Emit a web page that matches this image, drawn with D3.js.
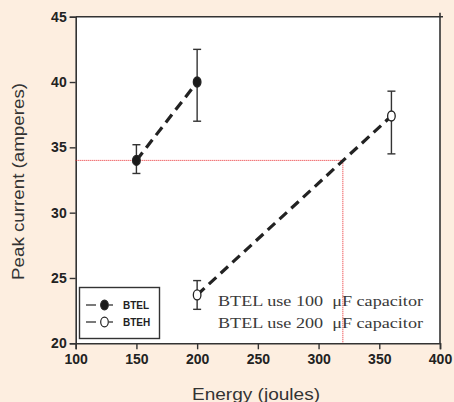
<!DOCTYPE html>
<html>
<head>
<meta charset="utf-8">
<script src="https://cdn.jsdelivr.net/npm/d3@7"></script>
<style>
  body { margin: 0; background: #fdeee0; }
  svg { display: block; }
</style>
</head>
<body>
<svg width="454" height="402"></svg>
<script>
// series data
var btelEnergy = [150, 200];
var btelCurrent = [34, 40];
var btelLow = [33, 37];
var btelHigh = [35.2, 42.5];

var btehEnergy = [200, 360];
var btehCurrent = [23.7, 37.4];
var btehLow = [22.6, 34.5];
var btehHigh = [24.8, 39.3];

var xTicks = [100, 150, 200, 250, 300, 350, 400];
var yTicks = [20, 25, 30, 35, 40, 45];
var refPoint = [320, 34]; // red dotted guide
var notes = ["BTEL use 100  \u03bcF capacitor", "BTEL use 200  \u03bcF capacitor"];

var svg = d3.select("svg");
// note: "top" is reserved on window, so plot edges get a prefix
var pLeft = 75.7, pRight = 440, pTop = 16.7, pBottom = 343.3;

var x = d3.scaleLinear().domain([100, 400]).range([pLeft, pRight]);
var y = d3.scaleLinear().domain([20, 45]).range([pBottom, pTop]);

// plot background
svg.append("rect")
  .attr("x", pLeft).attr("y", pTop)
  .attr("width", pRight - pLeft).attr("height", pBottom - pTop)
  .attr("fill", "#fff");

var axisColor = "#333";
var tickFont = "bold 14px 'Liberation Sans', Arial, sans-serif";

var xAxis = svg.append("g")
  .attr("transform", "translate(0," + pBottom + ")")
  .call(d3.axisBottom(x).tickValues(xTicks).tickSize(6).tickPadding(5));
var yAxis = svg.append("g")
  .attr("transform", "translate(" + pLeft + ",0)")
  .call(d3.axisLeft(y).tickValues(yTicks).tickSize(6).tickPadding(3));

[xAxis, yAxis].forEach(function(g) {
  g.select(".domain").attr("stroke", axisColor).attr("stroke-width", 1.6);
  g.selectAll(".tick line").attr("stroke", axisColor).attr("stroke-width", 1.4);
  g.selectAll(".tick text").attr("fill", "#222").style("font", tickFont);
});

// top and right frame
svg.append("line").attr("x1", pLeft).attr("x2", pRight + 3)
  .attr("y1", pTop).attr("y2", pTop)
  .attr("stroke", axisColor).attr("stroke-width", 1.6);
svg.append("line").attr("x1", pRight).attr("x2", pRight)
  .attr("y1", pTop - 4).attr("y2", pBottom)
  .attr("stroke", axisColor).attr("stroke-width", 1.6);

// red dotted guide lines
svg.append("path")
  .attr("d", "M" + x(100) + "," + y(refPoint[1]) + "H" + x(refPoint[0]) + "V" + y(20))
  .attr("fill", "none")
  .attr("stroke", "#e8262a")
  .attr("stroke-width", 1)
  .attr("stroke-dasharray", "1,1");

function drawSeries(ex, cur, lo, hi, filled) {
  var pts = ex.map(function(e, i) { return { e: e, c: cur[i], lo: lo[i], hi: hi[i] }; });

  svg.append("path")
    .datum(pts)
    .attr("fill", "none")
    .attr("stroke", "#222")
    .attr("stroke-width", 3.2)
    .attr("stroke-dasharray", "10,6")
    .attr("d", d3.line().x(function(d) { return x(d.e); }).y(function(d) { return y(d.c); }));

  var g = svg.append("g").selectAll("g").data(pts).enter().append("g");
  g.append("line")
    .attr("x1", function(d) { return x(d.e); }).attr("x2", function(d) { return x(d.e); })
    .attr("y1", function(d) { return y(d.lo); }).attr("y2", function(d) { return y(d.hi); })
    .attr("stroke", "#333").attr("stroke-width", 1.4);
  ["lo", "hi"].forEach(function(k) {
    g.append("line")
      .attr("x1", function(d) { return x(d.e) - 4; }).attr("x2", function(d) { return x(d.e) + 4; })
      .attr("y1", function(d) { return y(d[k]); }).attr("y2", function(d) { return y(d[k]); })
      .attr("stroke", "#333").attr("stroke-width", 1.4);
  });
  g.append("ellipse")
    .attr("cx", function(d) { return x(d.e); }).attr("cy", function(d) { return y(d.c); })
    .attr("rx", 3.8).attr("ry", 5)
    .attr("fill", filled ? "#1a1a1a" : "#fff")
    .attr("stroke", "#222").attr("stroke-width", 1.3);
}

drawSeries(btelEnergy, btelCurrent, btelLow, btelHigh, true);
drawSeries(btehEnergy, btehCurrent, btehLow, btehHigh, false);

// annotation (wide mincho-like face in the original, so stretch to fit)
svg.selectAll(".note").data(notes).enter().append("text")
  .attr("class", "note")
  .attr("x", 218)
  .attr("y", function(d, i) { return 306 + i * 22; })
  .attr("fill", "#3a3a3a")
  .attr("textLength", 205)
  .attr("lengthAdjust", "spacingAndGlyphs")
  .style("font", "15px 'Liberation Serif', 'Times New Roman', serif")
  .style("white-space", "pre")
  .text(function(d) { return d; });

// legend
var leg = svg.append("g");
leg.append("rect")
  .attr("x", 79.5).attr("y", 287.5).attr("width", 80).attr("height", 51)
  .attr("fill", "#fff").attr("stroke", "#333").attr("stroke-width", 1.4);
var legItems = [{ name: "BTEL", filled: true }, { name: "BTEH", filled: false }];
var li = leg.selectAll("g").data(legItems).enter().append("g")
  .attr("transform", function(d, i) { return "translate(0," + (305 + i * 17) + ")"; });
li.append("line").attr("x1", 86).attr("x2", 96).attr("y1", 0).attr("y2", 0)
  .attr("stroke", "#222").attr("stroke-width", 1.2);
li.append("line").attr("x1", 109).attr("x2", 113).attr("y1", 0).attr("y2", 0)
  .attr("stroke", "#222").attr("stroke-width", 1.2);
li.append("ellipse").attr("cx", 104.5).attr("cy", 0).attr("rx", 3.8).attr("ry", 4.8)
  .attr("fill", function(d) { return d.filled ? "#1a1a1a" : "#fff"; })
  .attr("stroke", "#222").attr("stroke-width", 1.2);
li.append("text").attr("x", 123).attr("y", 4)
  .attr("fill", "#222")
  .style("font", "bold 10px 'Liberation Sans', Arial, sans-serif")
  .text(function(d) { return d.name; });

// axis titles
svg.append("text")
  .attr("transform", "translate(24,181.5) rotate(-90)")
  .attr("text-anchor", "middle")
  .attr("fill", "#333")
  .attr("textLength", 197)
  .attr("lengthAdjust", "spacingAndGlyphs")
  .style("font", "16px 'Liberation Sans', Arial, sans-serif")
  .text("Peak current (amperes)");
svg.append("text")
  .attr("x", 256).attr("y", 399.5)
  .attr("text-anchor", "middle")
  .attr("fill", "#333")
  .attr("textLength", 128)
  .attr("lengthAdjust", "spacingAndGlyphs")
  .style("font", "16px 'Liberation Sans', Arial, sans-serif")
  .text("Energy (joules)");
</script>
</body>
</html>
